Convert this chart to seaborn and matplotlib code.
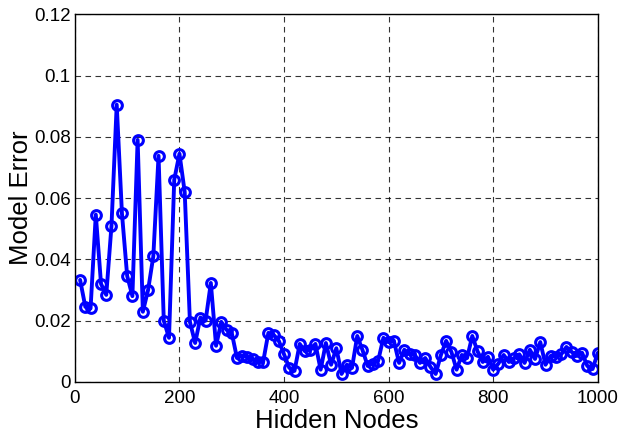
import matplotlib
matplotlib.use("Agg")
import matplotlib.pyplot as plt
import seaborn as sns
import numpy as np
import pandas as pd

hidden_nodes = list(range(10, 1001, 10))
model_error = [
    0.0333, 0.0245, 0.0240, 0.0546, 0.0320, 0.0284, 0.0510, 0.0905, 0.0550, 0.0346,
    0.0280, 0.0790, 0.0229, 0.0300, 0.0410, 0.0738, 0.0200, 0.0144, 0.0660, 0.0745,
    0.0620, 0.0196, 0.0127, 0.0210, 0.0200, 0.0323, 0.0118, 0.0196, 0.0170, 0.0160,
    0.0078, 0.0085, 0.0082, 0.0075, 0.0065, 0.0065, 0.0160, 0.0154, 0.0134, 0.0090,
    0.0046, 0.0036, 0.0124, 0.0100, 0.0104, 0.0124, 0.0040, 0.0127, 0.0056, 0.0110,
    0.0026, 0.0056, 0.0046, 0.0150, 0.0104, 0.0052, 0.0060, 0.0069, 0.0144, 0.0130,
    0.0134, 0.0062, 0.0105, 0.0090, 0.0088, 0.0062, 0.0078, 0.0049, 0.0026, 0.0088,
    0.0134, 0.0098, 0.0040, 0.0088, 0.0078, 0.0150, 0.0100, 0.0065, 0.0082, 0.0040,
    0.0060, 0.0088, 0.0065, 0.0078, 0.0090, 0.0062, 0.0105, 0.0075, 0.0130, 0.0056,
    0.0085, 0.0082, 0.0090, 0.0114, 0.0098, 0.0085, 0.0095, 0.0052, 0.0042, 0.0095,
]
x_ticks = [0, 200, 400, 600, 800, 1000]
y_ticks = [0, 0.02, 0.04, 0.06, 0.08, 0.1, 0.12]
y_tick_labels = ["0", "0.02", "0.04", "0.06", "0.08", "0.1", "0.12"]

df = pd.DataFrame({"Hidden Nodes": hidden_nodes, "Model Error": model_error})

sns.set_style("white")
plt.rcParams["font.family"] = ["Liberation Sans", "DejaVu Sans"]
plt.rcParams["text.color"] = "black"
plt.rcParams["axes.labelcolor"] = "black"

fig = plt.figure(figsize=(6.24, 4.33), dpi=100)
ax = fig.add_axes([0.12, 0.118, 0.838, 0.849])

sns.lineplot(data=df, x="Hidden Nodes", y="Model Error", ax=ax, color="#0000ff",
             linewidth=2.8, marker="o", markersize=7, markerfacecolor="none",
             markeredgecolor="#0000ff", markeredgewidth=2.2)

ax.set_xlim(0, 1000)
ax.set_ylim(0, 0.12)
ax.set_xticks(x_ticks)
ax.set_yticks(y_ticks)
ax.set_yticklabels(y_tick_labels)
ax.tick_params(direction="in", labelsize=13.5, length=4, colors="black", labelcolor="black")
ax.tick_params(axis="x", pad=6)
ax.tick_params(axis="y", pad=3)
ax.grid(True, color="black", linestyle=(0, (5, 4)), linewidth=0.8, alpha=0.8)
for s in ax.spines.values():
    s.set_color("black")
    s.set_linewidth(1.0)
ax.set_xlabel("Hidden Nodes", fontsize=18.5, labelpad=1, color="black")
ax.set_ylabel("Model Error", fontsize=18.5, labelpad=1, color="black")

fig.savefig("out.png", dpi=100)
